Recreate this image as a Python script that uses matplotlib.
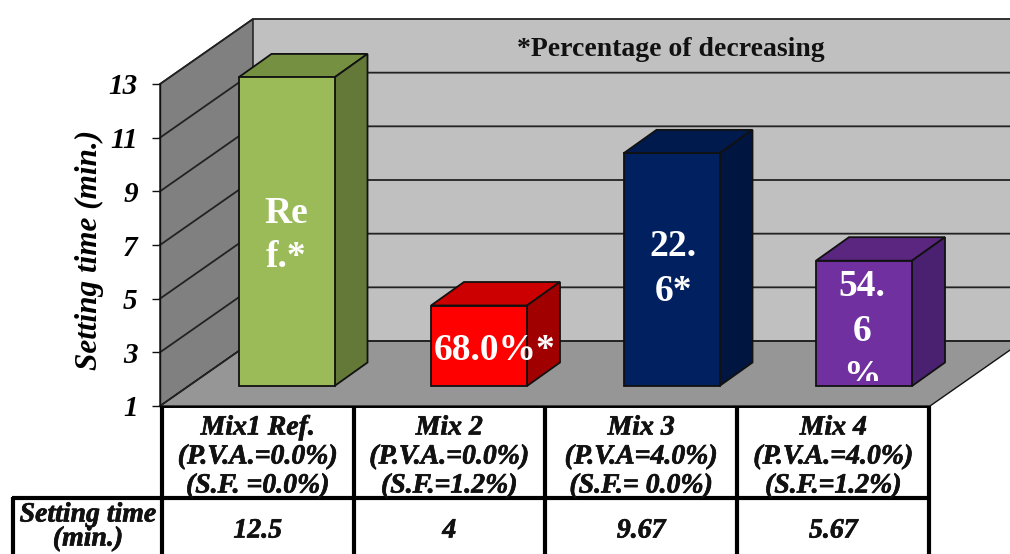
import matplotlib
matplotlib.use("Agg")
import matplotlib.pyplot as plt
import matplotlib.patheffects as pe
from matplotlib.patches import Polygon, Rectangle

# ---- data ----
mix_labels = [
    ["Mix1 Ref.", "(P.V.A.=0.0%)", "(S.F. =0.0%)"],
    ["Mix 2", "(P.V.A.=0.0%)", "(S.F.=1.2%)"],
    ["Mix 3", "(P.V.A=4.0%)", "(S.F.= 0.0%)"],
    ["Mix 4", "(P.V.A.=4.0%)", "(S.F.=1.2%)"],
]
setting_time = [12.5, 4, 9.67, 5.67]
value_labels = ["12.5", "4", "9.67", "5.67"]
bar_notes = ["Re\nf.*", "68.0%*", "22.\n6*", "54.\n6\n%"]
y_ticks = [1, 3, 5, 7, 9, 11, 13]
face_colors = ["#9BBB59", "#FF0000", "#002060", "#7030A0"]
top_colors = ["#769042", "#CC0000", "#001A4D", "#5A2680"]
side_colors = ["#647838", "#A00000", "#00153F", "#4A2070"]

W, H = 1010, 554
SERIF = "Liberation Serif"
fig = plt.figure(figsize=(W / 100, H / 100), dpi=100, facecolor="white")

# main axes: front plane of the 3D box
L, R, T, B = 160.0, 930.0, 84.0, 406.0
ax = fig.add_axes([L / W, 1 - B / H, (R - L) / W, (B - T) / H], facecolor="none")
ax.set_xlim(-0.5, 3.5)
ax.set_ylim(1, 13)
px_x = 1 / ((R - L) / 4)
px_y = 12 / (B - T)

wall_dx, wall_dy = 93 * px_x, 65 * px_y
bar_dx, bar_dy = 33 * px_x, 23.5 * px_y
bar_w = 96 * px_x
bar_shift = 78.5 * px_x
lift = 20 * px_y
EDGE = "#111111"
x0, x1 = -0.5, 3.5

# walls and floor
ax.add_patch(Polygon([(x0 + wall_dx, 1 + wall_dy), (x1 + wall_dx, 1 + wall_dy),
                      (x1 + wall_dx, 13 + wall_dy), (x0 + wall_dx, 13 + wall_dy)],
                     fc="#C0C0C0", ec="none", zorder=1, clip_on=False))
ax.add_patch(Polygon([(x0, 1), (x0 + wall_dx, 1 + wall_dy), (x0 + wall_dx, 13 + wall_dy), (x0, 13)],
                     fc="#808080", ec=EDGE, lw=1.0, zorder=1.5, clip_on=False))
ax.add_patch(Polygon([(x0, 1), (x1, 1), (x1 + wall_dx, 1 + wall_dy), (x0 + wall_dx, 1 + wall_dy)],
                     fc="#969696", ec=EDGE, lw=1.0, zorder=1.5, clip_on=False))
for v in y_ticks:
    ax.plot([x0, x0 + wall_dx, x1 + wall_dx], [v, v + wall_dy, v + wall_dy],
            color="#222222", lw=1.3, zorder=2, clip_on=False)

# bars
for i, v in enumerate(setting_time):
    a = i - 0.5 + bar_shift
    b = a + bar_w
    lo, hi = 1 + lift, v + lift
    ax.add_patch(Polygon([(a, hi), (b, hi), (b + bar_dx, hi + bar_dy), (a + bar_dx, hi + bar_dy)],
                         fc=top_colors[i], ec=EDGE, lw=1.3, zorder=3, clip_on=False))
    ax.add_patch(Polygon([(b, lo), (b + bar_dx, lo + bar_dy), (b + bar_dx, hi + bar_dy), (b, hi)],
                         fc=side_colors[i], ec=EDGE, lw=1.3, zorder=3, clip_on=False))
    ax.add_patch(Rectangle((a, lo), b - a, hi - lo, fc=face_colors[i], ec=EDGE, lw=1.3, zorder=4, clip_on=False))

note_y = [7.35, 3.05, 6.1, 3.78]
note_x = [0.0, 0.083, 0.01, -0.01]
for i, s in enumerate(bar_notes):
    a = i - 0.5 + bar_shift
    t = ax.text(a + bar_w / 2 + note_x[i], note_y[i], s, color="white", family=SERIF, weight="bold",
                fontsize=27, ha="center", va="center", linespacing=1.36, zorder=5, clip_on=False)
    if i == 3:
        clip = Rectangle((a, 1 + lift + 5 * px_y), bar_w, 12, transform=ax.transData)
        t.set_clip_path(clip)
        t.set_clip_on(True)

# axis
for name in ("top", "right", "bottom"):
    ax.spines[name].set_visible(False)
ax.spines["left"].set_color(EDGE)
ax.spines["left"].set_linewidth(1.0)
ax.spines["left"].set_zorder(2.5)
ax.set_xticks([])
ax.set_yticks(y_ticks)
ax.set_yticklabels([str(v) for v in y_ticks], family=SERIF, weight="bold", style="italic", fontsize=21)
ax.tick_params(axis="y", length=6, width=1.0, color=EDGE, pad=10, direction="out")
ax.set_ylabel("Setting time (min.)", family=SERIF, weight="bold", style="italic", fontsize=22.5, labelpad=0)
ax.yaxis.set_label_coords((104 - L) / (R - L), (B - 250) / (B - T))

# note on the back wall
fig.text(671 / W, 1 - 49 / H, "*Percentage of decreasing", family=SERIF, weight="bold", fontsize=20,
         color="#111111", ha="center", va="center", zorder=6)

# table overlay in pixel layout
tab = fig.add_axes([0, 0, 1, 1], facecolor="none")
tab.set_xlim(0, W)
tab.set_ylim(H, 0)
tab.axis("off")
columns = [162, 353.5, 545, 737.3, 929.3]
TLW = 3.0
tab.plot([162, 930], [406.5, 406.5], color="black", lw=1.4, solid_capstyle="butt")
for c in columns:
    tab.plot([c, c], [406, H], color="black", lw=TLW, solid_capstyle="butt")
tab.plot([12, 931], [498, 498], color="black", lw=TLW, solid_capstyle="butt")
tab.plot([13, 13], [496.5, H], color="black", lw=TLW, solid_capstyle="butt")

heavy = [pe.withStroke(linewidth=0.5, foreground="#111111")]
tkw = dict(family=SERIF, weight="bold", style="italic", color="#111111", ha="center", va="center",
           path_effects=heavy)
cell_fs = 20
for i, lines in enumerate(mix_labels):
    cx = (columns[i] + columns[i + 1]) / 2
    for line, y in zip(lines, [428, 457, 486]):
        tab.text(cx, y, line, fontsize=cell_fs, **tkw)
    tab.text(cx, 531, value_labels[i], fontsize=cell_fs, **tkw)
tab.text(88, 515, "Setting time", fontsize=cell_fs, **tkw)
tab.text(88, 539, "(min.)", fontsize=cell_fs, **tkw)

fig.savefig("out.png", dpi=100)
